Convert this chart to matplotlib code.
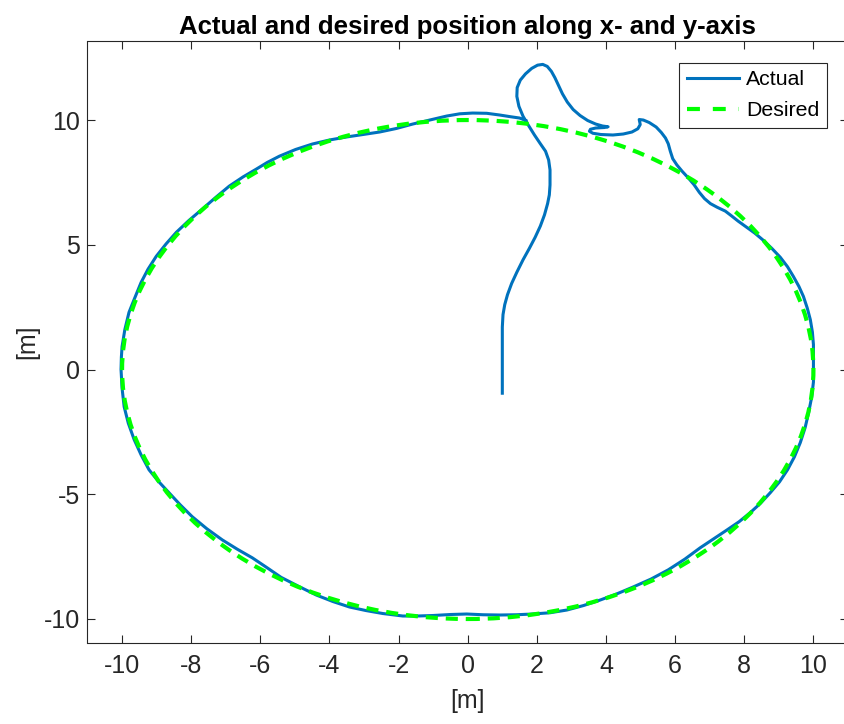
import matplotlib
matplotlib.use('Agg')
import matplotlib.pyplot as plt
import matplotlib.patches as mpatches
from matplotlib.lines import Line2D

# actual trajectory (start -> loop -> clockwise round)
actual_x = [1.0, 1.0, 1.02, 1.07, 1.15, 1.27, 1.42, 1.6, 1.78, 1.95, 2.1, 2.22,
            2.31, 2.36, 2.38, 2.38, 2.34, 2.25, 2.1, 1.93, 1.75, 1.6, 1.48, 1.42,
            1.43, 1.52, 1.67, 1.85, 2.02, 2.17, 2.3, 2.42, 2.52, 2.62, 2.74, 2.88,
            3.05, 3.25, 3.47, 3.7, 3.9, 4.06, 3.95, 3.7, 3.55, 3.52, 3.62, 3.85,
            4.2, 4.5, 4.75, 4.92, 4.99, 4.96, 5.08, 5.25, 5.45, 5.6, 5.72, 5.8,
            5.86, 5.93, 6.05, 6.2, 6.38, 6.55, 6.7, 6.85, 7.02, 7.22, 7.45, 7.62,
            7.82, 8.05, 8.3, 8.55, 8.8, 9.04, 9.25, 9.42, 9.58, 9.71, 9.82, 9.91,
            9.97, 10.0, 10.0, 10.0, 9.95, 9.86, 9.76, 9.62, 9.45, 9.25, 9.02, 8.75,
            8.47, 8.17, 7.85, 7.5, 7.12, 6.72, 6.28, 5.8, 5.3, 4.78, 4.3, 3.83,
            3.35, 2.87, 2.38, 1.88, 1.4, 0.93, 0.45, -0.03, -0.5, -1.01, -1.45, -1.88,
            -2.46, -2.95, -3.42, -3.9, -4.38, -4.88, -5.4, -5.8, -6.23, -6.67, -7.1, -7.55,
            -7.97, -8.32, -8.64, -8.95, -9.22, -9.45, -9.65, -9.82, -9.94, -10.0, -10.03, -10.02,
            -10.0, -9.92, -9.8, -9.65, -9.45, -9.25, -9.01, -8.73, -8.43, -8.07, -7.68, -7.29,
            -6.9, -6.5, -6.12, -5.8, -5.45, -4.98, -4.49, -4.0, -3.51, -3.03, -2.55, -2.07,
            -1.59, -1.1, -0.61, -0.23, 0.14, 0.55, 0.93, 1.25, 1.5, 1.68]
actual_y = [-0.95, 1.7, 2.2, 2.6, 3.0, 3.45, 3.9, 4.4, 4.85, 5.3, 5.75, 6.2,
            6.65, 7.0, 7.4, 8.0, 8.4, 8.75, 9.05, 9.4, 9.8, 10.15, 10.55, 10.95,
            11.3, 11.6, 11.85, 12.07, 12.2, 12.23, 12.15, 11.95, 11.7, 11.4, 11.05, 10.72,
            10.42, 10.18, 9.98, 9.84, 9.76, 9.73, 9.7, 9.68, 9.63, 9.55, 9.47, 9.42,
            9.4, 9.44, 9.52, 9.65, 9.82, 10.02, 10.0, 9.9, 9.72, 9.5, 9.28, 9.05,
            8.75, 8.45, 8.2, 7.95, 7.68, 7.4, 7.1, 6.85, 6.65, 6.5, 6.35, 6.17,
            5.95, 5.72, 5.47, 5.18, 4.85, 4.5, 4.12, 3.73, 3.33, 2.93, 2.47, 2.0,
            1.5, 1.0, 0.0, -0.5, -1.1, -1.73, -2.33, -2.93, -3.5, -4.02, -4.5, -4.94,
            -5.36, -5.74, -6.1, -6.43, -6.78, -7.15, -7.6, -8.03, -8.4, -8.72, -9.0, -9.24,
            -9.46, -9.64, -9.75, -9.8, -9.83, -9.84, -9.83, -9.8, -9.82, -9.86, -9.88, -9.88,
            -9.78, -9.66, -9.52, -9.3, -9.04, -8.7, -8.33, -7.95, -7.55, -7.2, -6.83, -6.38,
            -5.9, -5.42, -4.94, -4.48, -4.02, -3.42, -2.81, -2.15, -1.49, -0.75, 0.0, 0.5,
            0.92, 1.6, 2.29, 2.81, 3.49, 4.02, 4.54, 5.03, 5.5, 5.97, 6.43, 6.9,
            7.35, 7.72, 8.03, 8.3, 8.55, 8.82, 9.04, 9.2, 9.32, 9.42, 9.52, 9.66,
            9.84, 10.0, 10.16, 10.25, 10.28, 10.27, 10.2, 10.13, 10.08, 9.98]

# desired trajectory: circle
desired_center = (0.0, 0.0)
desired_radius = 10.0

x_ticks = [-10, -8, -6, -4, -2, 0, 2, 4, 6, 8, 10]
y_ticks = [-10, -5, 0, 5, 10]

blue = (0.0, 0.447, 0.741)
green = (0.0, 1.0, 0.0)
axcol = (0.15, 0.15, 0.15)

plt.rcParams['font.family'] = ['Liberation Sans', 'DejaVu Sans']
plt.rcParams['axes.unicode_minus'] = False

fig = plt.figure(figsize=(8.45, 7.24), dpi=100)
ax = fig.add_axes([87.5 / 845, 1 - 642.7 / 724, (848 - 87.5) / 845, (642.7 - 40.7) / 724])

ax.plot(actual_x, actual_y, color=blue, linewidth=2.2, zorder=2)
circ = mpatches.Circle(desired_center, desired_radius, fill=False, edgecolor=green,
                       linewidth=3.0, linestyle=(0, (2.9, 1.9)), zorder=3)
ax.add_patch(circ)

ax.set_xlim(-11, 11)
ax.set_ylim(-10.95, 13.18)
ax.set_xticks(x_ticks)
ax.set_yticks(y_ticks)
ax.tick_params(direction='in', length=5.5, width=0.8, colors=axcol, labelsize=18,
               top=True, right=True)
ax.tick_params(axis='x', pad=8)
ax.tick_params(axis='y', pad=5.5)
for sp in ax.spines.values():
    sp.set_color(axcol)
    sp.set_linewidth(0.8)

ax.set_title('Actual and desired position along x- and y-axis', fontsize=18.5,
             fontweight='bold', pad=5)
ax.set_xlabel('[m]', fontsize=18, color=axcol, labelpad=8)
ax.set_ylabel('[m]', fontsize=18, color=axcol, labelpad=3)

handles = [Line2D([], [], color=blue, linewidth=2.2),
           Line2D([], [], color=green, linewidth=3.0, linestyle=(0, (3.1, 3.1)))]
leg = ax.legend(handles, ['Actual', 'Desired'], loc='upper right',
                bbox_to_anchor=(827 / 845, 1 - 63 / 724), bbox_transform=fig.transFigure,
                borderaxespad=0, fontsize=15.3, handlelength=2.45, handletextpad=0.35,
                labelspacing=0.55, borderpad=0.35, fancybox=False, framealpha=1)
leg.get_frame().set_edgecolor(axcol)
leg.get_frame().set_linewidth(0.8)

fig.savefig('out.png', dpi=100)
